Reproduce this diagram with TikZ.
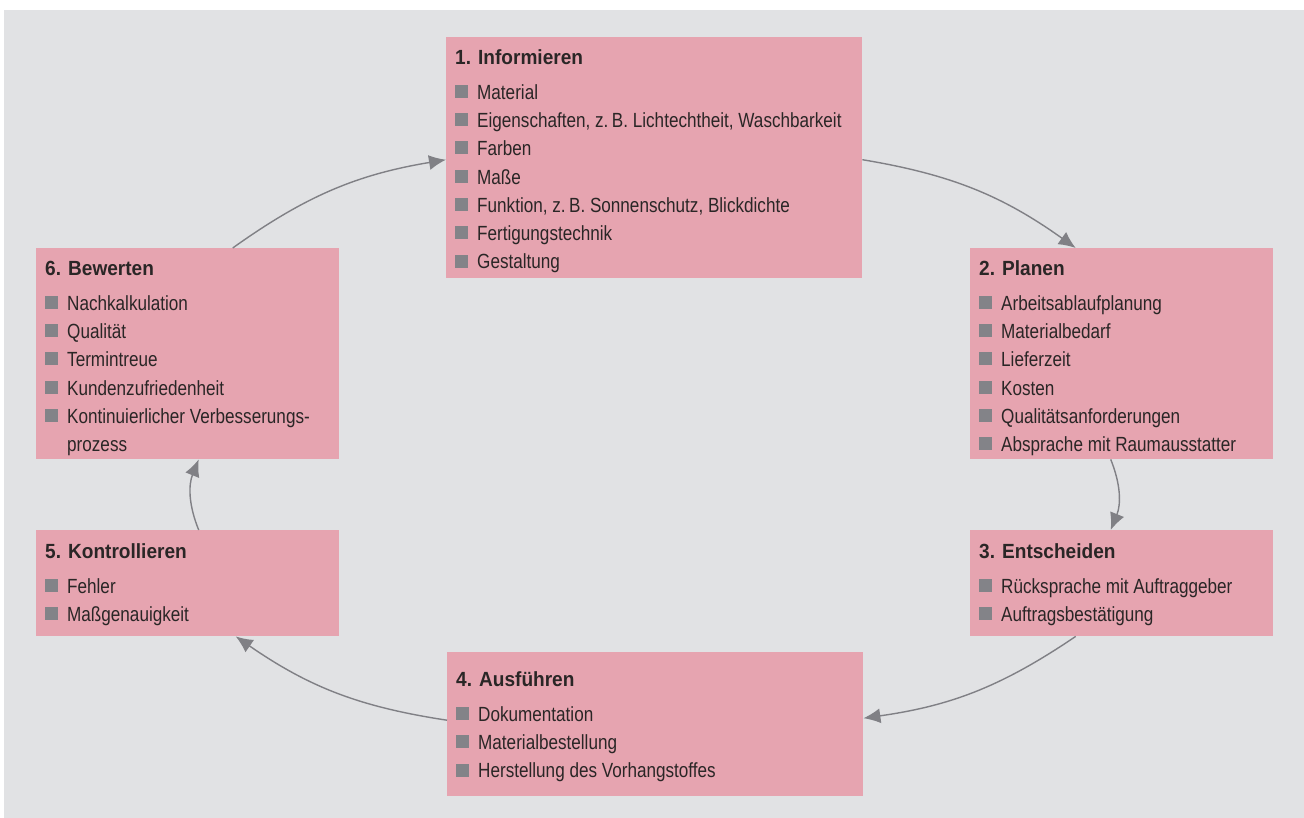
\documentclass[tikz,border=0pt]{standalone}
\usepackage{fontspec}
\setmainfont{Liberation Sans}[FakeStretch=0.835, BoldFeatures={FakeStretch=0.93}]
\usetikzlibrary{arrows.meta,calc}
\definecolor{bg}{HTML}{E1E2E4}
\definecolor{boxpink}{HTML}{E6A4B0}
\definecolor{bulletgray}{HTML}{838388}
\definecolor{arrowgray}{HTML}{808085}
\definecolor{txt}{HTML}{2A2626}
\newcommand\itm[1]{\par\makebox[22pt][l]{\textcolor{bulletgray}{\rule[1.3pt]{13pt}{13pt}}}#1}
\newcommand\contline[1]{\par\hspace*{22pt}#1}
\newcommand\card[5]{\parbox[t][#2][t]{#1}{\leftskip=9pt\parindent=0pt\lineskiplimit=-\maxdimen\baselineskip=28.3pt\rule{0pt}{#3}\textbf{#4}\par\vspace{6.7pt}#5}}
\tikzset{
  stepcard/.style={fill=boxpink, inner sep=0pt, anchor=north west, text=txt, font=\fontsize{20.5}{28.3}\selectfont},
  flow/.style={draw=arrowgray, line width=1.4pt, -{Latex[length=17pt,width=15pt]}}
}
\begin{document}
\begin{tikzpicture}[x=1pt,y=1pt]
\useasboundingbox (0,0) rectangle (1304,-818);
\fill[white] (0,0) rectangle (1304,-818);
\fill[bg] (4,-10) rectangle (1304,-818);

\node[stepcard] (b1) at (446,-37) {\card{416pt}{241pt}{27pt}{1. Informieren}{%
  \itm{Material}\itm{Eigenschaften, z.\,B. Lichtechtheit, Waschbarkeit}\itm{Farben}\itm{Maße}%
  \itm{Funktion, z.\,B. Sonnenschutz, Blickdichte}\itm{Fertigungstechnik}\itm{Gestaltung}}};

\node[stepcard] (b2) at (970,-248) {\card{303pt}{211pt}{27pt}{2. Planen}{%
  \itm{Arbeitsablaufplanung}\itm{Materialbedarf}\itm{Lieferzeit}\itm{Kosten}%
  \itm{Qualitätsanforderungen}\itm{Absprache mit Raumausstatter}}};

\node[stepcard] (b3) at (970,-530) {\card{303pt}{106pt}{28pt}{3. Entscheiden}{%
  \itm{Rücksprache mit Auftraggeber}\itm{Auftragsbestätigung}}};

\node[stepcard] (b4) at (447,-652) {\card{416pt}{144pt}{34pt}{4. Ausführen}{%
  \itm{Dokumentation}\itm{Materialbestellung}\itm{Herstellung des Vorhangstoffes}}};

\node[stepcard] (b5) at (36,-530) {\card{303pt}{106pt}{28pt}{5. Kontrollieren}{%
  \itm{Fehler}\itm{Maßgenauigkeit}}};

\node[stepcard] (b6) at (36,-248) {\card{303pt}{211pt}{27pt}{6. Bewerten}{%
  \itm{Nachkalkulation}\itm{Qualität}\itm{Termintreue}\itm{Kundenzufriedenheit}%
  \itm{Kontinuierlicher Verbesserungs-}\contline{prozess}}};

\draw[flow] ([yshift=-2pt]b1.east) to[bend left=13] ([xshift=-46pt]b2.north);
\draw[flow] ([xshift=-11pt]b2.south) to[bend left=22] ([xshift=-11pt]b3.north);
\draw[flow] ([xshift=-46pt]b3.south) to[bend left=13] ([yshift=6pt]b4.east);
\draw[flow] ([yshift=4pt]b4.west) to[bend left=13] ([xshift=48pt]b5.south);
\draw[flow] ([xshift=11pt]b5.north) to[bend left=22] ([xshift=11pt]b6.south);
\draw[flow] ([xshift=45pt]b6.north) to[bend left=13] ([yshift=-2pt]b1.west);
\end{tikzpicture}
\end{document}
